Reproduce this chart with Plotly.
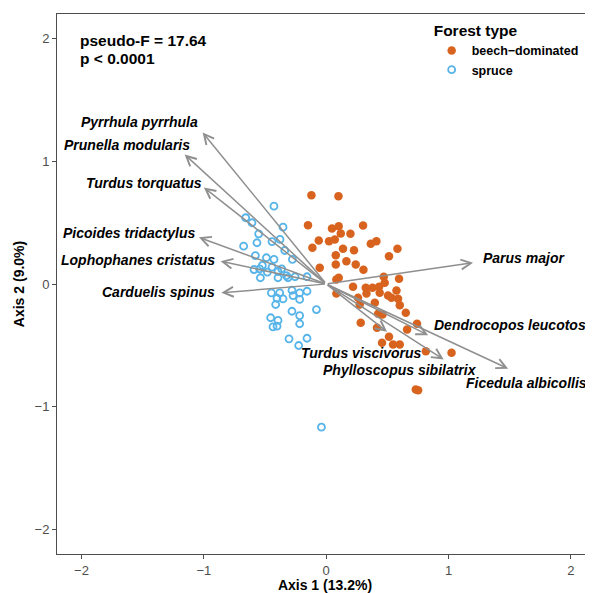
import plotly.graph_objects as go

# --- site scores (Axis 1, Axis 2) ---
beech_x = [-0.121, 0.100, -0.149, 0.047, 0.102, 0.119, 0.198, 0.301, -0.061, 0.023,
           0.070, -0.113, 0.137, 0.227, 0.364, 0.410, 0.582, 0.513, 0.078, 0.078,
           0.165, 0.241, 0.304, -0.053, 0.083, 0.102, 0.083, 0.219, 0.323, 0.378,
           0.432, 0.470, 0.478, 0.595, 0.329, 0.437, 0.505, 0.533, 0.574, 0.587,
           0.601, 0.260, 0.274, 0.397, 0.424, 0.460, 0.650, 0.282, 0.415, 0.742,
           0.661, 0.513, 0.456, 0.546, 0.601, 0.814, 1.024, 0.732, 0.751]
beech_y = [0.724, 0.716, 0.479, 0.452, 0.471, 0.412, 0.409, 0.477, 0.355, 0.349,
           0.363, 0.295, 0.287, 0.275, 0.328, 0.349, 0.287, 0.227, 0.235, 0.159,
           0.186, 0.159, 0.116, 0.132, 0.037, 0.051, -0.077, -0.023, -0.031, -0.031,
           -0.023, 0.059, 0.010, 0.042, -0.077, -0.072, -0.094, -0.112, -0.053, -0.121,
           -0.173, -0.112, -0.167, -0.153, -0.243, -0.249, -0.235, -0.316, -0.357, -0.324,
           -0.371, -0.430, -0.479, -0.493, -0.493, -0.548, -0.561, -0.860, -0.866]

spruce_x = [-0.427, -0.658, -0.607, -0.353, -0.552, -0.378, -0.443, -0.566, -0.675, -0.339,
            -0.276, -0.579, -0.489, -0.427, -0.522, -0.443, -0.364, -0.590, -0.544, -0.481,
            -0.394, -0.325, -0.538, -0.394, -0.312, -0.255, -0.157, -0.448, -0.380, -0.280,
            -0.217, -0.157, -0.402, -0.271, -0.217, -0.413, -0.353, -0.080, -0.280, -0.217,
            -0.454, -0.394, -0.435, -0.402, -0.217, -0.304, -0.157, -0.225, -0.039]
spruce_y = [0.634, 0.540, 0.499, 0.463, 0.409, 0.363, 0.346, 0.336, 0.308, 0.273,
            0.200, 0.232, 0.214, 0.200, 0.151, 0.137, 0.124, 0.118, 0.124, 0.096,
            0.102, 0.069, 0.051, 0.051, 0.051, 0.059, 0.059, -0.072, -0.072, -0.051,
            -0.072, -0.059, -0.116, -0.094, -0.126, -0.167, -0.121, -0.208, -0.222, -0.257,
            -0.275, -0.297, -0.349, -0.344, -0.324, -0.447, -0.442, -0.501, -1.167]

# --- species vectors ---
species = ["Pyrrhula pyrrhula", "Prunella modularis", "Turdus torquatus",
           "Picoides tridactylus", "Lophophanes cristatus", "Carduelis spinus",
           "Parus major", "Dendrocopos leucotos", "Turdus viscivorus",
           "Phylloscopus sibilatrix", "Ficedula albicollis"]
vec_x = [-1.01, -1.157, -1.00, -1.04, -0.863, -0.857, 1.20, 0.833, 0.497, 0.96, 1.487]
vec_y = [1.235, 1.055, 0.787, 0.38, 0.186, -0.072, 0.173, -0.417, -0.39, -0.615, -0.69]

# label placement (data units) and anchors
lab_x = [-1.035, -1.100, -1.002, -1.059, -0.895, -0.895, 1.263, 0.863, 0.290, 0.605, 1.635]
lab_y = [1.324, 1.129, 0.827, 0.412, 0.192, -0.069, 0.208, -0.330, -0.566, -0.697, -0.803]
lab_anchor = ["right", "right", "right", "right", "right", "right",
              "left", "left", "center", "center", "center"]

stats_lines = ["pseudo-F = 17.64", "p < 0.0001"]

ORANGE = "#d8631f"
BLUE = "#56B4E9"
GREY = "#8f8f8f"
FONT = "Liberation Sans, Arial, sans-serif"

fig = go.Figure()
fig.add_trace(go.Scatter(x=beech_x, y=beech_y, mode="markers", name="<b>beech\u2212dominated</b>",
                         marker=dict(symbol="circle", size=8.5, color=ORANGE)))
fig.add_trace(go.Scatter(x=spruce_x, y=spruce_y, mode="markers", name="<b>spruce</b>",
                         marker=dict(symbol="circle-open", size=7, color=BLUE,
                                     line=dict(width=1.8, color=BLUE))))

for sx, sy in zip(vec_x, vec_y):
    fig.add_annotation(x=sx, y=sy, ax=0, ay=0, xref="x", yref="y", axref="x", ayref="y",
                       text="", showarrow=True, arrowhead=5, arrowsize=1.3,
                       arrowwidth=1.5, arrowcolor=GREY)

for name, lx, ly, anc in zip(species, lab_x, lab_y, lab_anchor):
    fig.add_annotation(x=lx, y=ly, xref="x", yref="y", text="<b><i>" + name + "</i></b>",
                       showarrow=False, xanchor=anc, yanchor="middle",
                       font=dict(family=FONT, size=14, color="black"))

for i, line in enumerate(stats_lines):
    fig.add_annotation(x=-2.03, y=1.985 - i * 0.147, xref="x", yref="y",
                       xanchor="left", yanchor="middle",
                       text="<b>" + line + "</b>", showarrow=False,
                       font=dict(family=FONT, size=15.5, color="black"))

axis_common = dict(showgrid=False, zeroline=False, showline=True, linecolor="#4d4d4d",
                   linewidth=1, ticks="outside", ticklen=4, tickcolor="#4d4d4d",
                   automargin=False,
                   tickfont=dict(family=FONT, size=13, color="#4d4d4d"),
                   tickvals=[-2, -1, 0, 1, 2], ticktext=["\u22122", "\u22121", "0", "1", "2"])

# page body adds an 8px offset; figure sized so the plot lands where the reference has it
fig.update_layout(
    width=585, height=585,
    margin=dict(l=49, r=0, t=6, b=39),
    plot_bgcolor="white", paper_bgcolor="white",
    xaxis=dict(range=[-2.2, 2.18], mirror=True,
               title=dict(text="<b>Axis 1 (13.2%)</b>", standoff=2,
                          font=dict(family=FONT, size=14, color="black")),
               **axis_common),
    yaxis=dict(range=[-2.2, 2.2],
               title=dict(text="<b>Axis 2 (9.0%)</b>", standoff=6,
                          font=dict(family=FONT, size=14, color="black")),
               **axis_common),
    legend=dict(x=0.699, y=0.997, xanchor="left", yanchor="top",
                title=dict(text="<b>Forest type</b>", font=dict(family=FONT, size=15.5, color="black")),
                font=dict(family=FONT, size=12.5, color="black"),
                bgcolor="rgba(0,0,0,0)", tracegroupgap=0),
    showlegend=True,
)

fig.write_html("out.html")
